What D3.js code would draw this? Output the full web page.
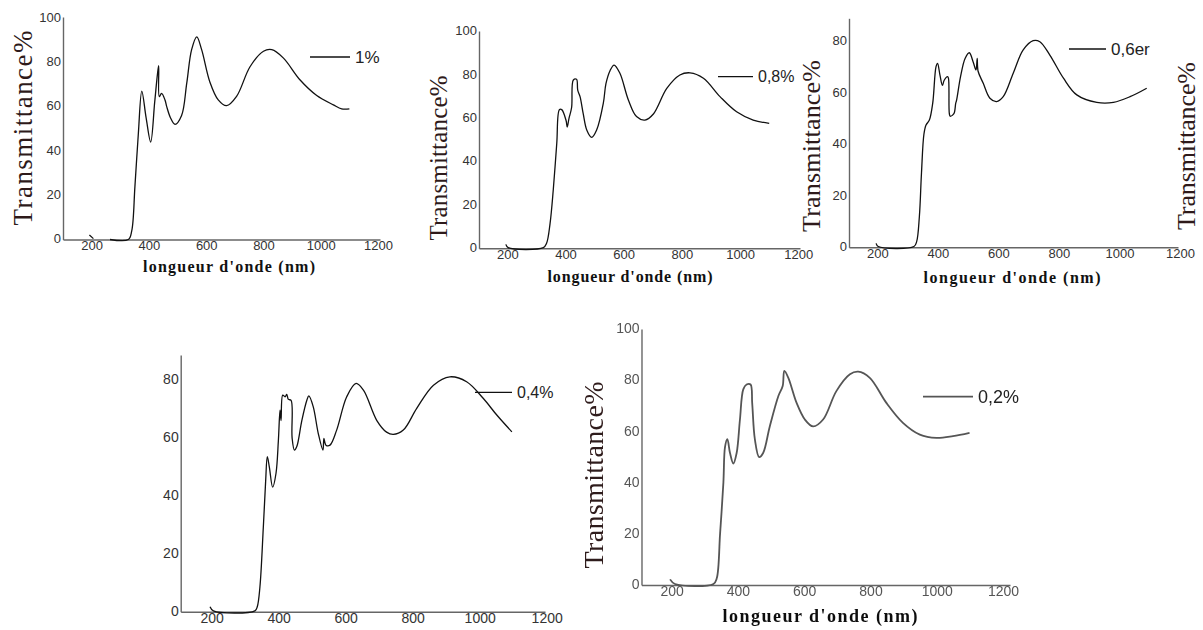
<!DOCTYPE html>
<meta charset="utf-8">
<style>
body { margin: 0; background: #fff; }
.ylab { font-family: "Liberation Serif", "Times New Roman", serif; fill: #2e1a1a; }
.xlab { font-family: "Liberation Serif", "Times New Roman", serif; font-weight: bold; fill: #111; }
.legend { font-family: "Liberation Sans", Arial, sans-serif; fill: #222; }
.curve { fill: none; stroke-linejoin: round; }
</style>
<body>
<div id="my_dataviz"></div>
<script src="https://d3js.org/d3.v7.min.js"></script>
<script>

// ---- data (wavelength nm / transmittance %) ----
var xTicks = [200, 400, 600, 800, 1000, 1200];
var yTicks100 = [0, 20, 40, 60, 80, 100];
var yTicks80 = [0, 20, 40, 60, 80];

// 1%  (small gap after the 200 nm hook)
var wl1 = [192, 206, 235, 264, 328, 340, 351, 363, 375, 390, 406, 420, 430, 434, 436, 444, 456, 462, 475, 491, 514, 532, 549, 567, 584, 613, 642, 671, 706, 753, 800, 829, 869, 928, 986, 1044, 1073, 1100];
var t1  = [2, 0.4, null, 0, 0, 4, 24, 48, 67, 55, 44, 62, 75, 78.5, 64.5, 66, 63, 60, 55, 52, 56, 70.6, 85.7, 91.5, 85.7, 71, 63, 60.4, 64.6, 78, 85, 85.7, 82, 72, 65, 60.8, 59, 59];

// 0,8%
var wl2 = [195, 203, 324, 335, 347, 358, 370, 379, 387, 402, 406, 412, 421, 427, 438, 442, 450, 461, 473, 490, 507, 530, 539, 553, 567, 587, 616, 644, 673, 702, 748, 793, 828, 874, 931, 988, 1045, 1100];
var t2  = [1.8, 0.3, 0.3, 2.3, 11.5, 27, 48.5, 64, 64, 59, 56, 60, 65, 77.7, 78, 73, 70, 62, 54.6, 51.2, 54.6, 67, 76, 82, 84.6, 80.8, 68.5, 60.8, 59.2, 62, 73.8, 80, 81, 78.5, 70, 63, 59.2, 57.7];

// 0,6er
var wl3 = [196, 203, 321, 330, 339, 346, 354, 361, 372, 383, 394, 399, 407, 415, 421, 432, 435, 438, 441, 453, 459, 462, 475, 490, 504, 517, 526, 530, 533, 550, 572, 594, 616, 649, 682, 715, 737, 770, 815, 859, 925, 980, 1035, 1090];
var t3  = [1.5, 0.3, 0.3, 2.2, 12, 29, 44, 47.6, 49.5, 56, 70.3, 71.6, 67, 63, 65, 66.4, 65.8, 52, 51, 52, 56, 57.3, 66.4, 73.5, 75.7, 72, 69, 73.5, 68.5, 63.8, 58, 56.7, 58.6, 67.7, 76.8, 80.4, 80, 74.8, 65.8, 59.3, 56.4, 56.4, 58.6, 61.9];

// 0,4%
var wl4 = [195, 205, 329, 336, 344, 354, 361, 366, 372, 382, 392, 399, 404, 407, 412, 419, 424, 429, 437, 440, 447, 454, 469, 484, 490, 503, 518, 532, 535, 541, 553, 573, 603, 631, 653, 693, 722, 742, 772, 812, 862, 911, 961, 1011, 1051, 1096];
var t4  = [1.7, 0.3, 0.3, 1.7, 8.6, 29, 45, 53.5, 50, 43, 47.8, 59, 69.6, 66, 74.8, 74.2, 75, 73.3, 73, 60, 55.8, 57, 66, 73, 74.5, 70.8, 61.6, 55.8, 59.8, 57.5, 57.5, 62.7, 74.2, 78.8, 76.5, 66, 62, 61.2, 62.7, 70.2, 78.2, 81.1, 79.4, 73.6, 67.9, 62.1];

// 0,2%
var wl5 = [195, 210, 326, 336, 346, 356, 361, 368, 376, 386, 396, 406, 416, 426, 438, 443, 451, 464, 476, 496, 522, 535, 540, 552, 577, 602, 627, 657, 697, 738, 763, 798, 848, 898, 949, 999, 1049, 1099];
var t5  = [2.2, 0.4, 0.4, 2.6, 20, 40, 54, 57, 51.6, 47.5, 51.6, 64.7, 76.5, 78.4, 78.4, 71, 57, 50, 51.6, 62, 73.9, 77.8, 83.7, 81, 71.2, 64.7, 62, 64.7, 75.8, 82.4, 83.4, 81, 71.2, 63.4, 58.8, 57.5, 58.2, 59.5];

var legends = ["1%", "0,8%", "0,6er", "0,4%", "0,2%"];

// ---- layout of each panel (pixel positions in the 1203x630 picture) ----
var panels = [
  { wl: wl1, t: t1, name: legends[0], left: 63, right: 380, bottom: 239.5, top: 17, y80: 62.3, x200: 91.7, x1200: 378, yTicks: yTicks100,
    tickSize: 13, tickColor: "#333", axisColor: "#666", lineColor: "#111", lineWidth: 1.3,
    ylab: { x: 32, y: 128, size: 27, len: 195 }, xlab: { x: 229, y: 271.5, size: 16, len: 172 },
    leg: { x1: 310, x2: 350, y: 57, size: 17 } },
  { wl: wl2, t: t2, name: legends[1], left: 479, right: 800, bottom: 248.3, top: 31, y80: 75, x200: 507.3, x1200: 798.3, yTicks: yTicks100,
    tickSize: 13, tickColor: "#333", axisColor: "#666", lineColor: "#111", lineWidth: 1.3,
    ylab: { x: 447, y: 158, size: 25, len: 165 }, xlab: { x: 630, y: 281.5, size: 16, len: 165 },
    leg: { x1: 718, x2: 753, y: 76.7, size: 16 } },
  { wl: wl3, t: t3, name: legends[2], left: 849, right: 1178, bottom: 247.3, top: 18.3, y80: 41.7, x200: 877.3, x1200: 1180, yTicks: yTicks80,
    tickSize: 13, tickColor: "#333", axisColor: "#666", lineColor: "#111", lineWidth: 1.3,
    ylab: { x: 820, y: 146, size: 26, len: 172 }, xlab: { x: 1012, y: 283, size: 16, len: 177 },
    leg: { x1: 1069, x2: 1106, y: 49, size: 17 } },
  { wl: wl4, t: t4, name: legends[3], left: 180.7, right: 545, bottom: 611.7, top: 355, y80: 380, x200: 211.7, x1200: 546.7, yTicks: yTicks80,
    tickSize: 14, tickColor: "#333", axisColor: "#666", lineColor: "#111", lineWidth: 1.3,
    ylab: null, xlab: null,
    leg: { x1: 475, x2: 512, y: 392.3, size: 16 } },
  { wl: wl5, t: t5, name: legends[4], left: 641.5, right: 1010, bottom: 585, top: 329, y80: 380.4, x200: 671.7, x1200: 1003, yTicks: yTicks100,
    tickSize: 14, tickColor: "#555", axisColor: "#666", lineColor: "#555", lineWidth: 1.8, blur: true,
    ylab: { x: 603, y: 475, size: 28, len: 187 }, xlab: { x: 820, y: 621.5, size: 18, len: 195 },
    leg: { x1: 923, x2: 973, y: 396.7, size: 18 } }
];

var svg = d3.select("#my_dataviz").append("svg")
    .attr("width", 1203)
    .attr("height", 630);

svg.append("rect").attr("width", 1203).attr("height", 630).attr("fill", "#fff");

svg.append("defs").append("filter")
    .attr("id", "soft")
  .append("feGaussianBlur")
    .attr("stdDeviation", 0.45);

panels.forEach(function(p) {

  var g = svg.append("g");
  if (p.blur) g.attr("filter", "url(#soft)");

  var x = d3.scaleLinear().domain([200, 1200]).range([p.x200, p.x1200]);
  x.domain([x.invert(p.left), x.invert(p.right)]).range([p.left, p.right]);

  var y = d3.scaleLinear().domain([0, 80]).range([p.bottom, p.y80]);
  y.domain([0, y.invert(p.top)]).range([p.bottom, p.top]);

  // x axis
  var gx = g.append("g")
      .attr("transform", "translate(0," + p.bottom + ")")
      .call(d3.axisBottom(x).tickValues(xTicks).tickFormat(d3.format("d"))
          .tickSize(0).tickSizeOuter(0).tickPadding(1.5))
      .attr("font-family", "'Liberation Sans', Arial, sans-serif")
      .attr("font-size", p.tickSize);
  gx.select(".domain").attr("stroke", p.axisColor).attr("stroke-width", 1.4);
  gx.selectAll("text").attr("fill", p.tickColor);

  // y axis
  var gy = g.append("g")
      .attr("transform", "translate(" + p.left + ",0)")
      .call(d3.axisLeft(y).tickValues(p.yTicks).tickFormat(d3.format("d"))
          .tickSize(0).tickSizeOuter(0).tickPadding(2))
      .attr("font-family", "'Liberation Sans', Arial, sans-serif")
      .attr("font-size", p.tickSize);
  gy.select(".domain").attr("stroke", p.axisColor).attr("stroke-width", 1.4);
  gy.selectAll("text").attr("fill", p.tickColor).attr("dy", "0.25em");

  // spectrum
  var pts = p.wl.map(function(w, i) { return [w, p.t[i]]; });
  var line = d3.line()
      .defined(function(d) { return d[1] != null; })
      .x(function(d) { return x(d[0]); })
      .y(function(d) { return y(d[1]); })
      .curve(d3.curveCatmullRom.alpha(0.5));

  g.append("path")
      .datum(pts)
      .attr("class", "curve")
      .attr("stroke", p.lineColor)
      .attr("stroke-width", p.lineWidth)
      .attr("d", line);

  // legend
  g.append("line")
      .attr("x1", p.leg.x1).attr("x2", p.leg.x2)
      .attr("y1", p.leg.y).attr("y2", p.leg.y)
      .attr("stroke", p.lineColor)
      .attr("stroke-width", p.lineWidth);
  g.append("text")
      .attr("class", "legend")
      .attr("x", p.leg.x2 + 5)
      .attr("y", p.leg.y)
      .attr("dy", "0.36em")
      .attr("font-size", p.leg.size)
      .text(p.name);

  // axis titles
  if (p.ylab) {
    g.append("text")
        .attr("class", "ylab")
        .attr("transform", "translate(" + p.ylab.x + "," + p.ylab.y + ") rotate(-90)")
        .attr("text-anchor", "middle")
        .attr("font-size", p.ylab.size)
        .attr("textLength", p.ylab.len)
        .attr("lengthAdjust", "spacing")
        .text("Transmittance%");
  }
  if (p.xlab) {
    g.append("text")
        .attr("class", "xlab")
        .attr("x", p.xlab.x)
        .attr("y", p.xlab.y)
        .attr("text-anchor", "middle")
        .attr("font-size", p.xlab.size)
        .attr("textLength", p.xlab.len)
        .attr("lengthAdjust", "spacing")
        .text("longueur d'onde (nm)");
  }
});

// stray axis title at the right edge of the figure
svg.append("text")
    .attr("class", "ylab")
    .attr("transform", "translate(1195,146) rotate(-90)")
    .attr("text-anchor", "middle")
    .attr("font-size", 26)
    .attr("textLength", 168)
    .attr("lengthAdjust", "spacing")
    .text("Transmittance%");

</script>
</body>
